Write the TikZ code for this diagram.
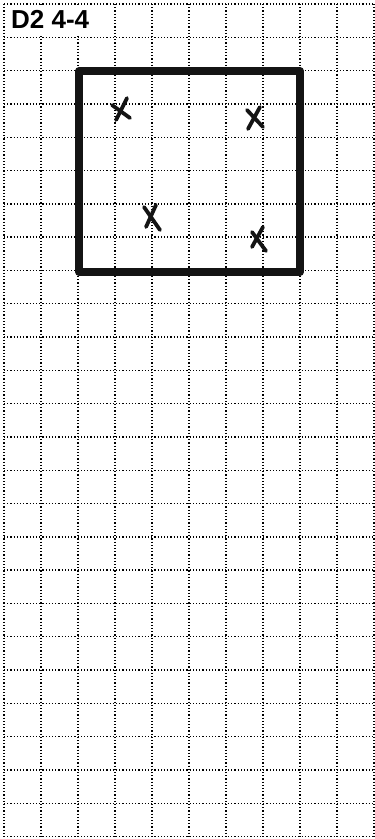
\documentclass[tikz,border=0pt]{standalone}
\usepackage{fontspec}
\setmainfont{Liberation Sans}
\begin{document}
\begin{tikzpicture}[x=1pt,y=-1pt,
  gridline/.style={line width=1.4pt,dash pattern=on 1.2pt off 2pt,black},
  frame/.style={line width=8pt,line join=round,line cap=round,black!92},
  cross/.style={line width=3.8pt,line cap=round,black!92}]
\useasboundingbox (0,0) rectangle (375,839);
\fill[white] (0,0) rectangle (375,839);
% grid
\foreach \k in {0,...,10} \draw[gridline] (4+37*\k,4) -- (4+37*\k,837);
\foreach \k in {0,...,25} \draw[gridline] (4,4+33.3*\k) -- (374,4+33.3*\k);
% title
\fill[white] (6,7) rectangle (96,36);
\node[anchor=north west,inner sep=0pt,font=\fontsize{26}{28}\selectfont\bfseries] (title) at (11,10) {D2 4-4};
% frame
\draw[frame] (79,71) rectangle (300,272);
% crosses
\draw[cross] (127,98) -- (116,120);
\draw[cross] (112,105) -- (130,118);
\draw[cross] (260,107) -- (248,129);
\draw[cross] (247,110) -- (263,127);
\draw[cross] (144,207) -- (160,230);
\draw[cross] (156,205) -- (146,227);
\draw[cross] (263,227) -- (252,247);
\draw[cross] (252,232) -- (266,251);
\end{tikzpicture}
\end{document}
